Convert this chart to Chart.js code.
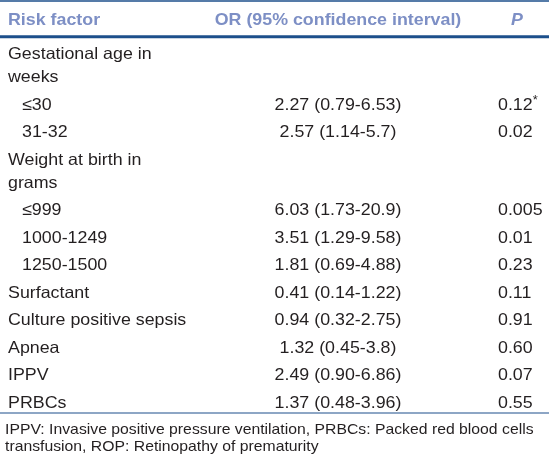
<!DOCTYPE html>
<html><head><meta charset="utf-8">
<script src="https://cdn.jsdelivr.net/npm/chart.js@4/dist/chart.umd.min.js"></script>
<style>html,body{margin:0;padding:0;background:#fff;overflow:hidden}canvas{display:block}</style>
</head><body>
<canvas id="c" width="549" height="471"></canvas>
<script>
// ---------- DATA ----------
const columnHeaders = ['Risk factor', 'OR (95% confidence interval)', 'P'];
const riskFactors = ['Gestational age in weeks', '≤30', '31-32', 'Weight at birth in grams', '≤999', '1000-1249', '1250-1500', 'Surfactant', 'Culture positive sepsis', 'Apnea', 'IPPV', 'PRBCs'];
const isSubItem = [false, true, true, false, true, true, true, false, false, false, false, false];
const oddsRatios = ['', '2.27', '2.57', '', '6.03', '3.51', '1.81', '0.41', '0.94', '1.32', '2.49', '1.37'];
const ciLower = ['', '0.79', '1.14', '', '1.73', '1.29', '0.69', '0.14', '0.32', '0.45', '0.90', '0.48'];
const ciUpper = ['', '6.53', '5.7', '', '20.9', '9.58', '4.88', '1.22', '2.75', '3.8', '6.86', '3.96'];
const pValues = ['', '0.12*', '0.02', '', '0.005', '0.01', '0.23', '0.11', '0.91', '0.60', '0.07', '0.55'];
const footnote = 'IPPV: Invasive positive pressure ventilation, PRBCs: Packed red blood cells transfusion, ROP: Retinopathy of prematurity';

// ---------- STYLE / LAYOUT ----------
const FONT = '"Liberation Sans", Arial, Helvetica, sans-serif';
const BODY_SIZE = 16.5, FOOT_SIZE = 14.6, STRETCH = 1.08;
const TEXT_COLOR = '#231f20', HEAD_COLOR = '#7d8fc5', RULE_COLOR = '#1c4f8b';
const W = 549;
const COL_X = { label: 8 / W, indent: 22 / W, or: 338 / W, pHead: 517 / W, p: 498 / W };
const COL1_WIDTH = 186, FOOT_WIDTH = 540;
const TOP_RULE = -0.7, HEAD_RULE = 0.6, BOTTOM_RULE = 14.3;
const FIRST_ROW = 1.24, ROW_STEP = 1, WRAP_STEP = 0.85;

const measurer = document.createElement('canvas').getContext('2d');
function wrap(text, font, maxW) {
  measurer.font = font;
  const words = text.split(' '); const lines = []; let cur = '';
  words.forEach(w => {
    const t = cur ? cur + ' ' + w : w;
    if (cur && measurer.measureText(t).width * STRETCH > maxW) { lines.push(cur); cur = w; } else cur = t;
  });
  if (cur) lines.push(cur);
  return lines;
}
const bodyFont = `${BODY_SIZE}px ${FONT}`;

const headerPts = columnHeaders.map((t, i) => ({
  x: [COL_X.label, COL_X.or, COL_X.pHead][i], y: 0, text: t,
  align: i === 0 ? 'left' : 'center', italic: i === 2
}));
const labelPts = [], orPts = [], pPts = [];
let cursor = FIRST_ROW;
riskFactors.forEach((rf, i) => {
  const lines = wrap(rf, bodyFont, COL1_WIDTH);
  lines.forEach((ln, k) => labelPts.push({ x: isSubItem[i] ? COL_X.indent : COL_X.label, y: cursor + k * WRAP_STEP, text: ln, align: 'left' }));
  if (oddsRatios[i]) orPts.push({ x: COL_X.or, y: cursor, text: `${oddsRatios[i]} (${ciLower[i]}-${ciUpper[i]})`, align: 'center' });
  if (pValues[i]) pPts.push({ x: COL_X.p, y: cursor, text: pValues[i], align: 'left' });
  cursor += ROW_STEP + (lines.length - 1) * WRAP_STEP;
});

function drawText(ctx, s, x, y, style, align) {
  ctx.save();
  ctx.translate(x, y);
  ctx.scale(STRETCH, 1);
  ctx.fillStyle = style.color;
  ctx.textBaseline = 'middle';
  ctx.textAlign = align;
  ctx.font = style.font;
  if (s.endsWith('*')) {
    const base = s.slice(0, -1);
    ctx.fillText(base, 0, 0);
    const w = ctx.measureText(base).width;
    ctx.font = style.font.replace(/[\d.]+px/, '12px');
    ctx.textAlign = 'left';
    ctx.fillText('*', align === 'left' ? w : w / 2, -4);
  } else ctx.fillText(s, 0, 0);
  ctx.restore();
}

const tablePlugin = {
  id: 'tableText',
  afterDatasetsDraw(chart) {
    const { ctx, chartArea, scales: { y } } = chart;
    ctx.save();
    ctx.strokeStyle = RULE_COLOR;
    [[TOP_RULE, 1.6], [HEAD_RULE, 3], [BOTTOM_RULE, 1.2]].forEach(([v, lw]) => {
      const py = y.getPixelForValue(v);
      ctx.lineWidth = lw; ctx.beginPath(); ctx.moveTo(chartArea.left, py); ctx.lineTo(chartArea.right, py); ctx.stroke();
    });
    ctx.restore();
    chart.data.datasets.forEach((ds, i) => {
      const meta = chart.getDatasetMeta(i);
      ds.data.forEach((d, j) => {
        const el = meta.data[j];
        const font = ds.textStyle.bold ? `${d.italic ? 'italic ' : ''}bold ${BODY_SIZE}px ${FONT}` : bodyFont;
        drawText(ctx, d.text, el.x, el.y, { color: ds.textStyle.color, font }, d.align);
      });
    });
    const footFont = `${FOOT_SIZE}px ${FONT}`;
    const fl = wrap(footnote, footFont, FOOT_WIDTH);
    fl.forEach((ln, k) => drawText(ctx, ln, 5, chartArea.bottom + 17 + k * 16.5, { color: TEXT_COLOR, font: footFont }, 'left'));
  }
};

const mk = (label, data, style) => ({ label, data, textStyle: style, pointRadius: 0, pointHoverRadius: 0, showLine: false });

new Chart(document.getElementById('c'), {
  type: 'scatter',
  data: {
    datasets: [
      mk('headers', headerPts, { color: HEAD_COLOR, bold: true }),
      mk('risk factor', labelPts, { color: TEXT_COLOR }),
      mk('OR (95% CI)', orPts, { color: TEXT_COLOR }),
      mk('P', pPts, { color: TEXT_COLOR })
    ]
  },
  options: {
    responsive: false, animation: false, devicePixelRatio: 1,
    layout: { padding: { top: 1, bottom: 58, left: 0, right: 0 } },
    scales: {
      x: { type: 'linear', display: false, min: 0, max: 1 },
      y: { type: 'linear', display: false, min: TOP_RULE, max: BOTTOM_RULE, reverse: true }
    },
    plugins: { legend: { display: false }, tooltip: { enabled: false } },
    events: []
  },
  plugins: [tablePlugin]
});
</script>
</body></html>
